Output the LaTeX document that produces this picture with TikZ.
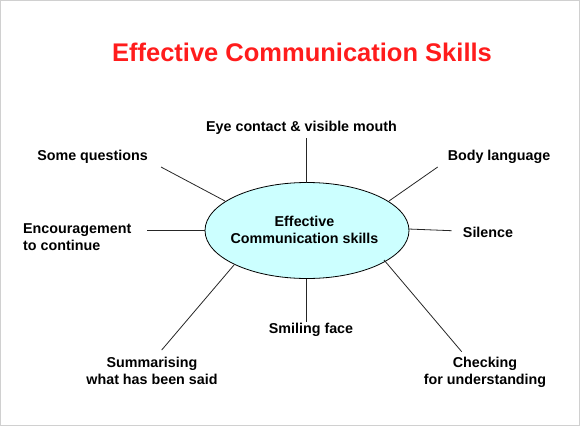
\documentclass[tikz,border=0pt]{standalone}
\usepackage{fontspec}
\setmainfont{Liberation Sans}
\usetikzlibrary{shapes.geometric}
\definecolor{titlered}{RGB}{255,28,28}
\definecolor{ellfill}{RGB}{204,255,255}
\definecolor{framegray}{RGB}{208,208,208}
\begin{document}
\begin{tikzpicture}[x=1pt,y=-1pt,
  lbl/.style={inner sep=0pt,font=\fontsize{14.3}{16.5}\selectfont\bfseries,align=center,anchor=base},
  conn/.style={draw=black!85,line width=0.8pt}]
\useasboundingbox (0,0) rectangle (580,426);
\draw[framegray,line width=1pt] (0.5,0.5) rectangle (579.5,425.5);
\node[inner sep=0pt,anchor=base,text=titlered,font=\fontsize{25.5}{30}\selectfont\bfseries] (title) at (302,61) {Effective Communication Skills};
\node[ellipse,draw=black,line width=0.8pt,fill=ellfill,minimum width=204pt,minimum height=96pt,inner sep=0pt] (ell) at (307,230.5) {};
\node[lbl] (center) at (304.5,243.3) {Effective\\Communication skills};
\node[lbl] (eye) at (301.5,131) {Eye contact \& visible mouth};
\node[lbl] (someq) at (92.5,160) {Some questions};
\node[lbl] (body) at (499,160) {Body language};
\node[lbl,align=left,anchor=base west] (enc) at (23,250) {Encouragement\\to continue};
\node[lbl] (silence) at (488,237) {Silence};
\node[lbl] (smile) at (311,333) {Smiling face};
\node[lbl] (summ) at (152,384) {Summarising\\what has been said};
\node[lbl] (check) at (485,384) {Checking\\for understanding};
% connector ends
\coordinate (eyeE) at (306.5,138);   \coordinate (eyeS) at (306.5,182.5);
\coordinate (sqE) at (161,167);      \coordinate (sqS) at (225,201);
\coordinate (blE) at (437.7,167);    \coordinate (blS) at (389,201);
\coordinate (enE) at (147,230);      \coordinate (enS) at (205,230);
\coordinate (siE) at (451.7,230.7);  \coordinate (siS) at (408.5,229);
\coordinate (smE) at (306.7,321.7);  \coordinate (smS) at (306.7,278.5);
\coordinate (suE) at (161.7,350);    \coordinate (suS) at (234,265);
\coordinate (chE) at (461.7,351.7);  \coordinate (chS) at (384,260);
\draw[conn] (eyeS) -- (eyeE);
\draw[conn] (sqS) -- (sqE);
\draw[conn] (blS) -- (blE);
\draw[conn] (enS) -- (enE);
\draw[conn] (siS) -- (siE);
\draw[conn] (smS) -- (smE);
\draw[conn] (suS) -- (suE);
\draw[conn] (chS) -- (chE);
\end{tikzpicture}
\end{document}
